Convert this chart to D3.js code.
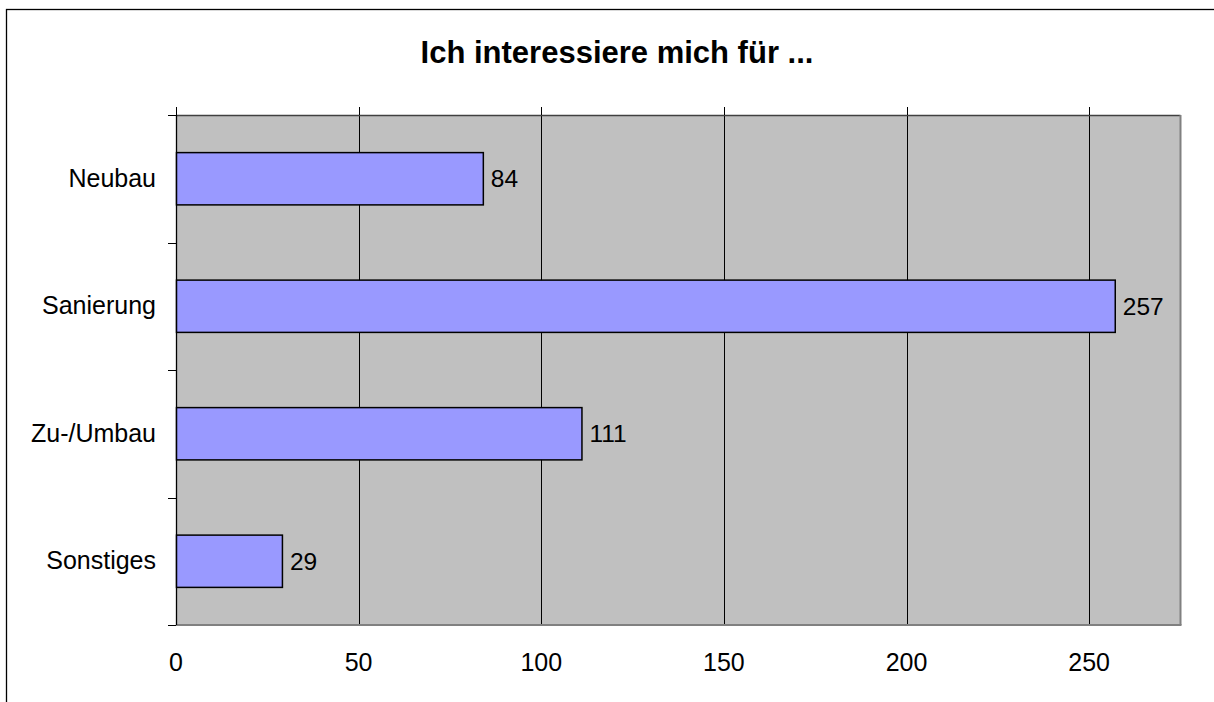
<!DOCTYPE html>
<html><head><meta charset="utf-8">
<script src="https://cdn.jsdelivr.net/npm/d3@7"></script>
<style>body{margin:0;background:#fff;} svg{display:block;font-family:"Liberation Sans",Arial,sans-serif;}</style>
</head><body>
<script>
const title = "Ich interessiere mich für ...";
const categories = ["Neubau", "Sanierung", "Zu-/Umbau", "Sonstiges"];
const values = [84, 257, 111, 29];
const xTicks = [0, 50, 100, 150, 200, 250];
const xMax = 275;

const W = 1214, H = 702;
const svg = d3.select("body").append("svg").attr("width", W).attr("height", H);

// outer frame (clipped at right/bottom)
svg.append("rect").attr("x", 6.5).attr("y", 9.5).attr("width", 1240).attr("height", 720)
  .attr("fill", "none").attr("stroke", "#000").attr("stroke-width", 1.3);

const L = 176, R = 1180.5, T = 115, B = 625;
const x = d3.scaleLinear().domain([0, xMax]).range([L, R]);
const y = d3.scaleBand().domain(categories).range([T, B]).padding(0);
const barFrac = 0.41;

// plot background
svg.append("rect").attr("x", L).attr("y", T).attr("width", R - L).attr("height", B - T)
  .attr("fill", "#C0C0C0");

// gridlines
svg.append("g").selectAll("line").data(xTicks.filter(d => d > 0)).join("line")
  .attr("x1", d => Math.round(x(d)) + 0.5).attr("x2", d => Math.round(x(d)) + 0.5)
  .attr("y1", T).attr("y2", B).attr("stroke", "#000").attr("stroke-width", 1);

// plot border: right and bottom gray, top dark
svg.append("line").attr("x1", L).attr("x2", R).attr("y1", T + 0.5).attr("y2", T + 0.5)
  .attr("stroke", "#404040").attr("stroke-width", 1.5);
svg.append("line").attr("x1", R).attr("x2", R).attr("y1", T).attr("y2", B)
  .attr("stroke", "#808080").attr("stroke-width", 2);
svg.append("line").attr("x1", L).attr("x2", R + 1).attr("y1", B).attr("y2", B)
  .attr("stroke", "#808080").attr("stroke-width", 2);

// top ticks for x-axis
svg.append("g").selectAll("line").data(xTicks).join("line")
  .attr("x1", d => Math.round(x(d)) + 0.5).attr("x2", d => Math.round(x(d)) + 0.5)
  .attr("y1", T - 8).attr("y2", T).attr("stroke", "#000").attr("stroke-width", 1);

// y axis line and ticks at band boundaries
svg.append("line").attr("x1", L + 0.5).attr("x2", L + 0.5).attr("y1", T).attr("y2", B)
  .attr("stroke", "#000").attr("stroke-width", 1.3);
const bounds = categories.map(c => y(c)).concat([B]);
svg.append("g").selectAll("line").data(bounds).join("line")
  .attr("x1", L - 8).attr("x2", L).attr("y1", d => Math.round(d) + 0.5).attr("y2", d => Math.round(d) + 0.5)
  .attr("stroke", "#000").attr("stroke-width", 1);

// bars
const bh = y.bandwidth() * barFrac;
svg.append("g").selectAll("rect").data(values).join("rect")
  .attr("x", x(0) + 0.5)
  .attr("y", (d, i) => y(categories[i]) + (y.bandwidth() - bh) / 2)
  .attr("width", d => x(d) - x(0))
  .attr("height", bh)
  .attr("fill", "#9999FF").attr("stroke", "#000").attr("stroke-width", 1.5);

// value labels
svg.append("g").selectAll("text").data(values).join("text")
  .attr("x", d => x(d) + 8)
  .attr("y", (d, i) => y(categories[i]) + y.bandwidth() / 2)
  .attr("dy", "0.35em").attr("font-size", 24.5).attr("fill", "#000")
  .text(d => d);

// category labels
svg.append("g").selectAll("text").data(categories).join("text")
  .attr("x", 156).attr("y", d => y(d) + y.bandwidth() / 2 - 1)
  .attr("dy", "0.35em").attr("text-anchor", "end").attr("font-size", 25)
  .text(d => d);

// x tick labels
svg.append("g").selectAll("text").data(xTicks).join("text")
  .attr("x", d => x(d)).attr("y", 662).attr("dy", "0.35em")
  .attr("text-anchor", "middle").attr("font-size", 25)
  .text(d => d);

// title
svg.append("text").attr("x", 617).attr("y", 52).attr("dy", "0.35em")
  .attr("text-anchor", "middle").attr("font-size", 31).attr("font-weight", "bold")
  .text(title);
</script>
</body></html>
